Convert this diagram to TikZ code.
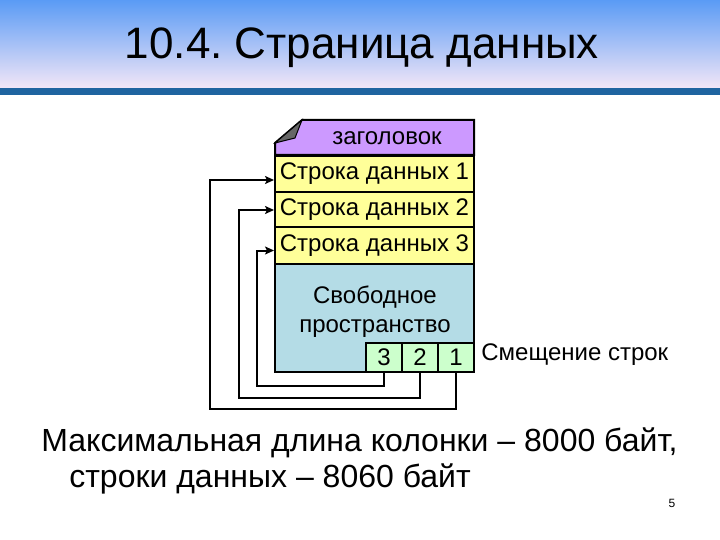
\documentclass[tikz,border=0pt]{standalone}
\usepackage{fontspec}
\setmainfont{Liberation Sans}
\usetikzlibrary{arrows.meta}
\frenchspacing

\definecolor{headpurple}{HTML}{CC99FF}
\definecolor{rowyellow}{HTML}{FFFF99}
\definecolor{freeblue}{HTML}{B4DCE6}
\definecolor{cellgreen}{HTML}{CCFFCC}
\definecolor{bartop}{HTML}{5A9BF5}
\definecolor{barmid}{HTML}{B4CDF2}
\definecolor{barbottom}{HTML}{F2E6F7}
\definecolor{barline}{HTML}{1F64A0}

\begin{document}
\begin{tikzpicture}[x=1pt, y=-1pt, >={Stealth[length=9pt,width=8pt,inset=2pt]}, line width=2pt,
    row/.style={draw, fill=rowyellow, minimum width=199pt, minimum height=36pt, inner sep=0pt, font=\fontsize{24}{26}\selectfont},
    cell/.style={draw, fill=cellgreen, minimum width=36pt, minimum height=29pt, inner sep=0pt, font=\fontsize{24}{26}\selectfont}]
        \useasboundingbox (0,0) rectangle (720,540);

        % title band
        \shade[top color=bartop, middle color=barmid, bottom color=barbottom] (0,0) rectangle (720,88);
        \fill[barline] (0,88) rectangle (720,95);
        \node[font=\fontsize{44}{50}\selectfont] (title) at (362,48) {10.4. Страница данных};

        % page
        \draw[fill=headpurple] (275,143) -- (302,120) -- (474,120) -- (474,155) -- (275,155) -- cycle;
        \draw[fill=gray!80!black, line width=1pt] (275,143) -- (302,120) -- (295,138) -- cycle;
        \node[font=\fontsize{24}{26}\selectfont] (head) at (387,138) {заголовок};
        \node[row] (r1) at (374.5,174) {Строка данных 1};
        \node[row] (r2) at (374.5,210) {Строка данных 2};
        \node[row] (r3) at (374.5,245.5) {Строка данных 3};
        \node[draw, fill=freeblue, minimum width=199pt, minimum height=108pt, inner sep=0pt] (free) at (374.5,317.5) {};
        \node[align=center, font=\fontsize{24}{29}\selectfont] (freetext) at (375,312) {Свободное\\пространство};
        \node[cell] (c3) at (384,357) {3};
        \node[cell] (c2) at (420,357) {2};
        \node[cell] (c1) at (456,357) {1};
        \node[anchor=west, font=\fontsize{24}{26}\selectfont] (offs) at (477,355) {Смещение строк};

        \draw[->] (c3.south) -- ++(0,13) -| ([shift={(-17,5)}]r3.west) -- ([shift={(0,5)}]r3.west);
        \draw[->] (c2.south) -- ++(0,25) -| ([shift={(-35,0)}]r2.west) -- (r2.west);
        \draw[->] (c1.south) -- ++(0,36) -| ([shift={(-64,6)}]r1.west) -- ([shift={(0,6)}]r1.west);

        % bottom text
        \node[anchor=west, font=\fontsize{32}{36}\selectfont] (note1) at (37,443) {Максимальная длина колонки – 8000 байт,};
        \node[anchor=west, font=\fontsize{32}{36}\selectfont] (note2) at (65,479) {строки данных – 8060 байт};
        \node[font=\fontsize{12}{14}\selectfont] (pagenum) at (672,503) {5};
    \end{tikzpicture}
\end{document}
